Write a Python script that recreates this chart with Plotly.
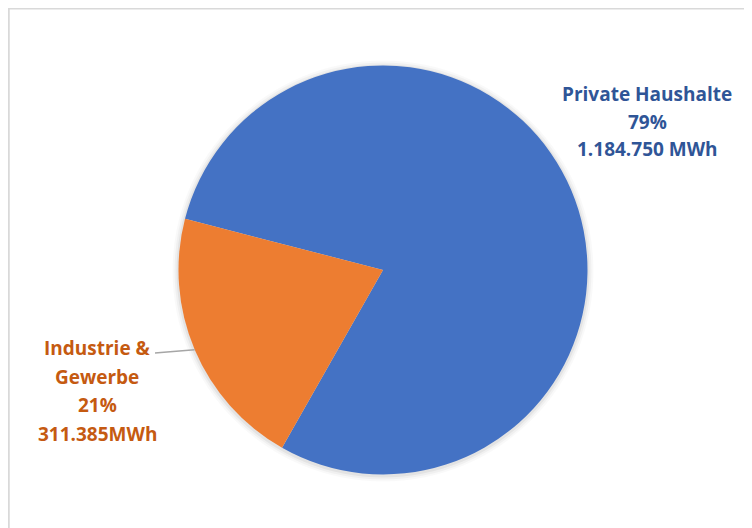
import math
import plotly.graph_objects as go

# ---- data ----
categories = ["Private Haushalte", "Industrie & Gewerbe"]
values_mwh = [1184750, 311385]
name_lines = [["Private Haushalte"], ["Industrie &", "Gewerbe"]]
value_labels = ["1.184.750 MWh", "311.385MWh"]
slice_colors = ["#4472C4", "#ED7D31"]
label_colors = ["#2F5597", "#C55A11"]

total = sum(values_mwh)
pct_labels = [f"{round(v / total * 100)}%" for v in values_mwh]

# ---- layout geometry (page pixels; the page body has an 8px offset) ----
W, H = 752, 528
OFF = 8
cx, cy, R = 383, 270, 204.5
rotation = -75.5  # clockwise from 12 o'clock

def px(x):
    return (x - OFF) / W

def py(y):
    return 1 - (y - OFF) / H

traces = []
# soft shadow rings behind the pie
for k, a in [(6, 0.025), (4, 0.035), (2, 0.05)]:
    r = R + k
    traces.append(go.Pie(
        values=[1], sort=False, textinfo="none", hoverinfo="skip",
        marker=dict(colors=[f"rgba(0,0,0,{a})"], line=dict(width=0)),
        showlegend=False,
        domain=dict(x=[px(cx - r), px(cx + r)], y=[py(cy + 1 + r), py(cy + 1 - r)]),
    ))

traces.append(go.Pie(
    labels=categories,
    values=values_mwh,
    sort=False,
    direction="clockwise",
    rotation=rotation,
    marker=dict(colors=slice_colors, line=dict(width=0)),
    textinfo="none",
    hoverinfo="label+value+percent",
    showlegend=False,
    domain=dict(x=[px(cx - R), px(cx + R)], y=[py(cy + R), py(cy - R)]),
))
fig = go.Figure(traces)

# label blocks
label_pos = [(647, 94, 27.5), (97, 348, 28.5)]
annotations = []
for i in range(len(categories)):
    lines = name_lines[i] + [pct_labels[i], value_labels[i]]
    x0, y0, dy = label_pos[i]
    for j, t in enumerate(lines):
        annotations.append(dict(
            x=px(x0), y=py(y0 + j * dy), xref="paper", yref="paper",
            text=f"<b>{t}</b>", showarrow=False,
            xanchor="center", yanchor="middle",
            font=dict(family="Open Sans", size=19, color=label_colors[i]),
        ))

# leader line for the small slice, pointing at its mid-angle
start = rotation + values_mwh[0] / total * 360
mid = math.radians(start + values_mwh[1] / total * 180)
ex, ey = cx + R * math.sin(mid), cy - R * math.cos(mid)
leader = dict(
    type="path", xref="paper", yref="paper",
    path=f"M {px(155)},{py(353)} L {px(167)},{py(352)} L {px(ex)},{py(ey)}",
    line=dict(color="#A6A6A6", width=1.5),
)

border = dict(
    type="rect", xref="paper", yref="paper",
    x0=0.001, x1=1.02, y0=-0.02, y1=0.999,
    line=dict(color="#D9D9D9", width=2),
)

fig.update_layout(
    width=W, height=H,
    margin=dict(l=0, r=0, t=0, b=0),
    paper_bgcolor="white",
    plot_bgcolor="white",
    annotations=annotations,
    shapes=[border, leader],
)

fig.write_html("out.html")
